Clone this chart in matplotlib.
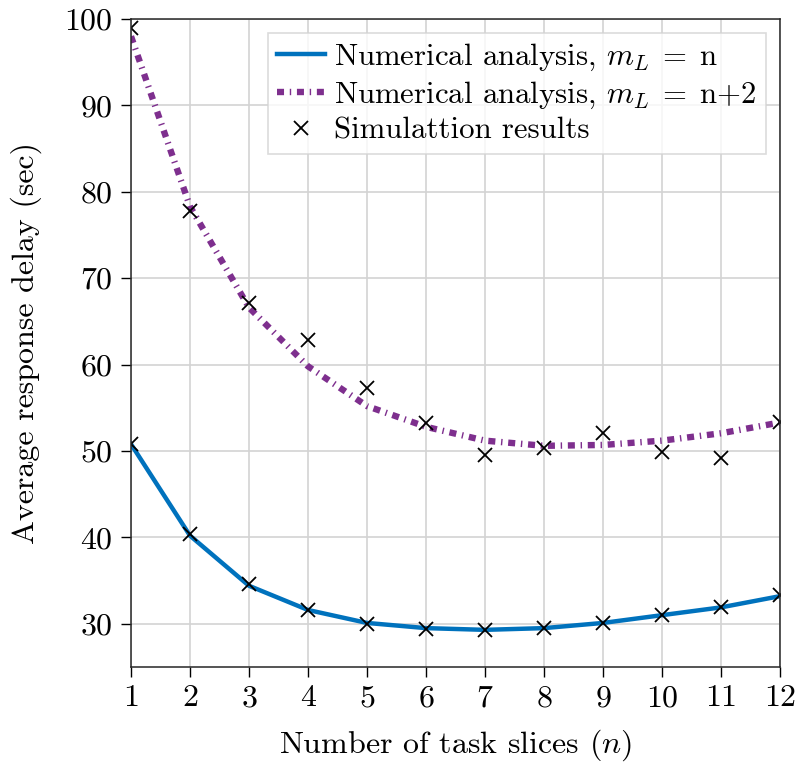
import numpy as np
import matplotlib
matplotlib.use('Agg')
import matplotlib.pyplot as plt

# Datos
n = [1, 2, 3, 4, 5, 6, 7, 8, 9, 10, 11, 12]
analisis_n = [50.8, 40.2, 34.4, 31.6, 30.1, 29.5, 29.3, 29.5, 30.1, 31.0, 31.9, 33.2]
analisis_n2 = [98.0, 78.3, 66.6, 59.8, 55.2, 52.8, 51.2, 50.6, 50.7, 51.2, 52.05, 53.3]
sim_n = [50.8, 40.4, 34.55, 31.6, 30.0, 29.4, 29.3, 29.5, 30.1, 31.0, 32.0, 33.3]
sim_n2 = [99.0, 77.8, 67.1, 62.8, 57.3, 53.2, 49.5, 50.3, 52.1, 49.85, 49.2, 53.4]

plt.rcParams['font.family'] = ['cmr10']
plt.rcParams['mathtext.fontset'] = 'cm'
plt.rcParams['axes.formatter.use_mathtext'] = True
plt.rcParams['font.size'] = 23

fig = plt.figure(figsize=(7.97, 7.63), dpi=100)
ax = fig.add_axes([131 / 797, 1 - 667 / 763, 649 / 797, 648 / 763])

ax.plot(n, analisis_n, color='#0072BD', lw=3.2,
        label=r'Numerical analysis, $m_L\;=\;\mathrm{n}$')
ax.plot(n, analisis_n2, color='#7E2F8E', lw=4.6, dashes=(1.1, 0.9, 0.22, 0.9),
        dash_capstyle='butt', label=r'Numerical analysis, $m_L\;=\;\mathrm{n}{+}2$')
ax.plot(n, sim_n, 'x', color='black', ms=10, mew=1.3, label='Simulattion results')
ax.plot(n, sim_n2, 'x', color='black', ms=10, mew=1.3)

ax.set_xlim(1, 12)
ax.set_ylim(25, 100)
ax.set_xticks(n)
ax.set_yticks(np.arange(30, 101, 10))
ax.tick_params(direction='out', length=7, width=1, labelsize=23, pad=6)
ax.grid(True, color='#d3d3d3', lw=1.2)
ax.set_axisbelow(True)
for s in ax.spines.values():
    s.set_color('#262626')
    s.set_linewidth(1.1)

ax.set_xlabel(r'Number of task slices ($n$)', fontsize=23, labelpad=11)
ax.set_ylabel('Average response delay (sec)', fontsize=23, labelpad=16)

leg = ax.legend(loc='upper right', fontsize=22.2, fancybox=False, framealpha=0.8,
                edgecolor='#d3d3d3', handlelength=1.55, handletextpad=0.3,
                labelspacing=0.2, borderpad=0.3, borderaxespad=0.45)
leg.get_frame().set_linewidth(1.2)

plt.savefig('out.png', dpi=100)
